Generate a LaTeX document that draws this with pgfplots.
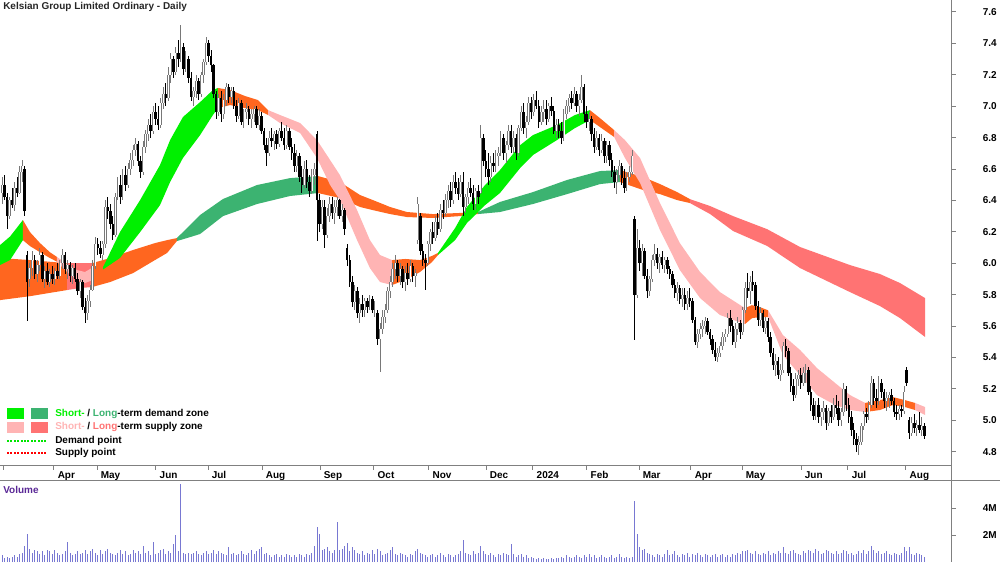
\documentclass[border=0pt]{standalone}
\usepackage{pgfplots}
\pgfplotsset{compat=1.18}
\usepackage{pgfplotstable}
\usepackage{fontspec}
\setmainfont{Liberation Sans}
\definecolor{sgreen}{RGB}{0,240,0}
\definecolor{lgreen}{RGB}{60,179,113}
\definecolor{spink}{RGB}{255,180,180}
\definecolor{lred}{RGB}{255,115,115}
\definecolor{orng}{RGB}{255,102,31}
\definecolor{volc}{RGB}{120,120,210}
\definecolor{volt}{RGB}{90,40,150}
\definecolor{framec}{RGB}{128,128,128}
\definecolor{upc}{RGB}{120,120,120}
\definecolor{dotgreen}{RGB}{0,230,0}
\definecolor{dotred}{RGB}{255,0,0}

\pgfplotstableread{
i o h l c v
0 6.45 6.55 6.38 6.50 0.5
1 6.50 6.56 6.40 6.42 0.3
2 6.42 6.45 6.22 6.30 0.4
3 6.30 6.42 6.28 6.40 0.3
4 6.40 6.48 6.35 6.37 0.4
5 6.37 6.52 6.33 6.48 0.5
6 6.48 6.55 6.42 6.45 0.4
7 6.45 6.62 6.44 6.58 0.6
8 6.58 6.66 6.52 6.62 0.7
9 6.60 6.62 6.30 6.33 1.2
10 6.05 6.08 5.63 5.88 2.1
11 5.90 6.00 5.85 5.97 1.0
12 5.97 6.08 5.92 6.02 0.7
13 6.02 6.05 5.90 5.93 0.9
14 5.93 6.02 5.88 5.99 0.8
15 5.99 6.10 5.95 6.05 0.6
16 6.05 6.07 5.88 5.90 0.8
17 5.90 5.98 5.84 5.95 0.5
18 5.95 6.00 5.86 5.88 0.9
19 5.88 5.96 5.85 5.93 0.8
20 5.93 5.98 5.87 5.90 0.6
21 5.90 5.97 5.86 5.95 0.9
22 5.95 6.00 5.90 5.92 0.7
23 5.92 6.02 5.90 6.00 0.5
24 6.00 6.09 5.96 6.05 0.6
25 6.05 6.07 5.93 5.96 0.8
26 5.96 6.02 5.90 5.99 1.5
27 5.99 6.01 5.88 5.92 0.7
28 5.92 5.99 5.87 5.97 0.5
29 5.97 6.00 5.88 5.90 0.6
30 5.90 5.94 5.80 5.82 0.8
31 5.82 5.90 5.78 5.88 0.6
32 5.88 5.89 5.70 5.72 0.7
33 5.72 5.78 5.62 5.68 0.9
34 5.68 5.80 5.64 5.76 0.6
35 5.76 5.86 5.72 5.83 0.8
36 5.83 6.02 5.82 5.98 1.0
37 5.98 6.17 5.96 6.12 0.7
38 6.12 6.16 6.05 6.10 0.5
39 6.10 6.14 6.03 6.06 0.9
40 6.05 6.14 6.02 6.12 0.6
41 6.12 6.40 6.10 6.36 0.8
42 6.36 6.42 6.28 6.33 1.0
43 6.33 6.38 6.22 6.25 0.7
44 6.25 6.30 6.15 6.18 0.6
45 6.18 6.45 6.17 6.42 0.5
46 6.42 6.55 6.40 6.50 0.7
47 6.50 6.56 6.38 6.42 0.9
48 6.42 6.60 6.40 6.56 0.6
49 6.56 6.62 6.46 6.50 0.8
50 6.50 6.64 6.48 6.60 0.5
51 6.60 6.70 6.56 6.66 0.6
52 6.66 6.75 6.62 6.72 0.9
53 6.72 6.80 6.68 6.76 0.7
54 6.76 6.78 6.62 6.65 0.8
55 6.65 6.68 6.54 6.58 0.6
56 6.58 6.78 6.56 6.74 1.2
57 6.74 6.85 6.70 6.82 0.7
58 6.82 6.92 6.78 6.88 0.8
59 6.88 6.95 6.80 6.84 0.5
60 6.84 7.00 6.82 6.96 1.5
61 6.96 7.02 6.88 6.92 0.6
62 6.92 7.00 6.85 6.88 0.7
63 6.88 7.05 6.86 7.02 0.9
64 7.02 7.12 6.98 7.08 1.0
65 7.08 7.15 7.00 7.05 0.6
66 7.05 7.25 7.03 7.20 0.8
67 7.20 7.34 7.15 7.30 0.7
68 7.30 7.32 7.18 7.22 1.3
69 7.22 7.38 7.20 7.34 2.0
70 7.34 7.42 7.25 7.30 0.8
71 7.30 7.52 7.28 7.38 5.8
72 7.38 7.40 7.20 7.24 0.7
73 7.24 7.35 7.22 7.30 0.6
74 7.30 7.32 7.15 7.18 0.7
75 7.18 7.22 7.03 7.06 0.6
76 7.06 7.12 7.00 7.10 0.7
77 7.10 7.20 7.05 7.16 0.8
78 7.16 7.18 7.04 7.08 0.6
79 7.08 7.22 7.06 7.20 0.5
80 7.20 7.30 7.15 7.28 0.7
81 7.28 7.44 7.26 7.40 0.8
82 7.40 7.42 7.28 7.32 0.6
83 7.32 7.36 7.22 7.26 0.7
84 7.26 7.27 7.05 7.08 0.9
85 7.08 7.10 6.92 6.96 0.6
86 6.96 7.08 6.94 7.05 0.8
87 7.05 7.10 6.90 6.95 0.7
88 6.95 7.08 6.92 7.04 0.6
89 7.04 7.15 7.00 7.12 0.5
90 7.12 7.14 7.02 7.06 1.1
91 7.06 7.12 7.02 7.10 0.6
92 7.10 7.12 6.98 7.00 0.7
93 7.00 7.04 6.90 6.94 0.5
94 6.94 7.05 6.92 7.02 0.6
95 7.02 7.04 6.88 6.90 0.8
96 6.90 6.98 6.86 6.96 0.6
97 6.96 7.02 6.92 6.98 0.5
98 6.98 7.00 6.88 6.92 0.7
99 6.92 6.98 6.86 6.95 0.9
100 6.95 7.00 6.90 6.98 0.6
101 6.98 7.00 6.86 6.88 0.8
102 6.88 6.98 6.85 6.94 1.0
103 6.94 6.96 6.82 6.84 1.1
104 6.84 6.86 6.72 6.75 0.6
105 6.75 6.80 6.62 6.70 0.7
106 6.70 6.84 6.68 6.80 0.5
107 6.80 6.86 6.74 6.78 0.4
108 6.78 6.84 6.72 6.82 0.5
109 6.82 6.85 6.73 6.76 0.6
110 6.76 6.86 6.74 6.84 0.4
111 6.84 6.90 6.78 6.80 0.5
112 6.80 6.86 6.72 6.75 0.4
113 6.75 6.88 6.73 6.84 0.6
114 6.84 6.86 6.72 6.74 0.5
115 6.74 6.80 6.66 6.70 0.4
116 6.70 6.76 6.58 6.62 0.5
117 6.62 6.72 6.58 6.68 0.4
118 6.68 6.70 6.52 6.55 0.6
119 6.55 6.62 6.45 6.50 0.5
120 6.50 6.65 6.48 6.60 0.4
121 6.60 6.66 6.48 6.52 0.6
122 6.52 6.56 6.42 6.46 0.5
123 6.46 6.60 6.44 6.56 0.7
124 6.56 6.64 6.50 6.60 1.2
125 6.82 6.84 6.14 6.40 2.6
126 6.40 6.44 6.20 6.25 2.1
127 6.25 6.40 6.22 6.36 0.9
128 6.36 6.40 6.10 6.18 1.0
129 6.18 6.35 6.16 6.30 1.1
130 6.30 6.42 6.26 6.38 0.8
131 6.38 6.42 6.28 6.32 0.7
132 6.32 6.40 6.25 6.36 0.9
133 6.36 6.42 6.30 6.40 3.0
134 6.40 6.41 6.28 6.30 0.9
135 6.30 6.38 6.26 6.34 1.0
136 6.34 6.35 6.18 6.22 1.2
137 6.10 6.12 5.98 6.02 1.4
138 6.02 6.05 5.85 5.88 0.8
139 5.88 5.92 5.72 5.75 1.1
140 5.75 5.86 5.70 5.82 0.9
141 5.82 5.85 5.65 5.68 0.7
142 5.68 5.78 5.62 5.74 0.6
143 5.74 5.80 5.66 5.70 0.8
144 5.70 5.78 5.66 5.76 0.5
145 5.76 5.78 5.68 5.72 0.7
146 5.72 5.80 5.70 5.77 0.6
147 5.77 5.79 5.68 5.70 0.9
148 5.70 5.76 5.66 5.73 0.6
149 5.68 5.70 5.48 5.52 1.0
150 5.52 5.62 5.31 5.58 0.8
151 5.58 5.70 5.55 5.66 0.5
152 5.66 5.74 5.62 5.70 0.6
153 5.70 5.85 5.68 5.82 0.7
154 5.82 5.92 5.78 5.88 0.9
155 5.88 6.00 5.85 5.96 1.1
156 5.96 6.05 5.90 6.00 0.6
157 6.00 6.02 5.88 5.92 0.5
158 5.92 6.00 5.86 5.96 0.7
159 5.96 5.98 5.84 5.88 0.6
160 5.88 5.98 5.82 5.94 0.5
161 5.94 6.00 5.86 5.90 0.4
162 5.90 6.02 5.88 5.98 0.6
163 5.98 6.00 5.88 5.92 0.5
164 5.92 5.96 5.85 5.94 0.8
165 6.15 6.42 6.12 6.38 1.0
166 6.30 6.32 6.05 6.08 0.7
167 6.08 6.12 5.98 6.02 0.6
168 6.02 6.06 5.83 6.00 0.5
169 6.00 6.14 5.98 6.12 0.4
170 6.12 6.22 6.08 6.20 0.5
171 6.20 6.26 6.12 6.16 0.6
172 6.16 6.30 6.14 6.26 0.4
173 6.26 6.32 6.18 6.22 0.5
174 6.22 6.38 6.20 6.34 0.7
175 6.34 6.40 6.28 6.32 0.5
176 6.32 6.44 6.30 6.40 0.4
177 6.40 6.50 6.35 6.46 0.6
178 6.46 6.52 6.36 6.40 0.5
179 6.40 6.56 6.38 6.52 0.4
180 6.52 6.58 6.44 6.48 0.5
181 6.48 6.54 6.40 6.44 0.6
182 6.44 6.56 6.42 6.52 0.8
183 6.52 6.58 6.30 6.36 1.6
184 6.36 6.44 6.32 6.42 0.7
185 6.42 6.52 6.38 6.48 0.6
186 6.48 6.54 6.42 6.45 0.5
187 6.45 6.50 6.34 6.38 0.8
188 6.38 6.48 6.34 6.46 0.6
189 6.46 6.50 6.38 6.42 0.7
190 6.45 6.88 6.44 6.80 1.2
191 6.80 6.82 6.62 6.65 0.8
192 6.65 6.72 6.55 6.60 0.6
193 6.60 6.70 6.50 6.55 0.5
194 6.55 6.68 6.52 6.64 0.7
195 6.64 6.70 6.58 6.62 0.5
196 6.62 6.72 6.58 6.68 0.4
197 6.68 6.74 6.62 6.70 0.6
198 6.70 6.84 6.68 6.80 0.5
199 6.80 6.82 6.66 6.70 0.7
200 6.70 6.78 6.64 6.75 0.6
201 6.75 6.88 6.72 6.84 0.5
202 6.84 6.88 6.70 6.74 1.3
203 6.74 6.84 6.70 6.80 0.6
204 6.80 6.82 6.66 6.70 0.4
205 6.70 6.88 6.68 6.86 0.5
206 6.86 7.00 6.84 6.96 0.6
207 6.96 7.02 6.82 6.86 0.4
208 6.86 6.94 6.80 6.90 0.5
209 6.90 7.06 6.88 7.02 0.3
210 7.02 7.06 6.92 6.96 0.4
211 6.96 7.08 6.94 7.04 0.3
212 7.04 7.10 6.98 7.00 0.2
213 7.00 7.04 6.86 6.90 0.3
214 6.90 7.00 6.88 6.96 0.2
215 6.96 7.04 6.90 6.98 0.3
216 6.98 7.04 6.88 6.92 0.2
217 6.92 7.02 6.90 7.00 0.2
218 7.00 7.06 6.94 6.97 0.3
219 6.97 7.00 6.82 6.84 0.2
220 6.84 6.92 6.80 6.88 0.3
221 6.88 6.92 6.80 6.84 0.3
222 6.84 6.90 6.76 6.80 0.4
223 6.80 6.98 6.78 6.95 0.3
224 6.95 7.04 6.92 7.00 0.5
225 7.00 7.08 6.96 7.05 0.4
226 7.05 7.10 6.98 7.02 0.3
227 7.02 7.12 7.00 7.08 0.4
228 7.08 7.10 6.96 7.00 0.5
229 7.00 7.08 6.94 7.04 0.4
230 7.04 7.20 7.02 7.12 0.3
231 7.12 7.14 6.90 6.95 0.5
232 6.95 7.00 6.86 6.90 0.4
233 6.90 6.96 6.84 6.92 0.6
234 6.92 6.94 6.78 6.82 0.4
235 6.82 6.86 6.70 6.74 0.5
236 6.74 6.84 6.72 6.80 0.3
237 6.80 6.82 6.68 6.72 0.4
238 6.72 6.82 6.70 6.78 0.5
239 6.78 6.80 6.64 6.68 0.4
240 6.68 6.78 6.64 6.75 0.3
241 6.75 6.78 6.62 6.66 0.4
242 6.66 6.70 6.55 6.58 0.5
243 6.58 6.62 6.48 6.52 0.3
244 6.52 6.60 6.44 6.56 0.4
245 6.56 6.66 6.54 6.62 0.6
246 6.62 6.64 6.50 6.54 0.4
247 6.54 6.60 6.45 6.48 0.3
248 6.48 6.58 6.46 6.55 0.4
249 6.55 6.62 6.52 6.58 0.3
250 6.58 6.72 6.56 6.68 0.4
251 6.28 6.30 5.51 5.80 4.5
252 5.80 6.22 5.78 6.10 2.1
253 6.10 6.15 5.95 6.00 1.1
254 6.00 6.12 5.92 6.08 0.9
255 6.08 6.10 5.90 5.92 1.0
256 5.92 5.96 5.78 5.82 0.7
257 5.82 5.92 5.79 5.90 0.6
258 5.90 6.05 5.88 6.02 0.5
259 6.02 6.12 5.98 6.06 0.4
260 6.06 6.10 5.96 6.00 0.6
261 6.00 6.06 5.94 6.04 0.5
262 6.04 6.08 5.96 5.99 0.4
263 5.99 6.04 5.94 6.02 0.6
264 6.02 6.04 5.93 5.96 0.9
265 5.96 5.98 5.90 5.93 0.5
266 5.93 5.95 5.84 5.86 0.6
267 5.86 5.90 5.78 5.81 0.8
268 5.81 5.88 5.76 5.84 0.5
269 5.84 5.86 5.74 5.77 0.4
270 5.77 5.84 5.72 5.80 0.6
271 5.80 5.84 5.70 5.74 0.5
272 5.74 5.82 5.70 5.78 0.7
273 5.78 5.84 5.72 5.76 0.4
274 5.76 5.78 5.62 5.64 0.6
275 5.64 5.66 5.48 5.50 0.5
276 5.50 5.58 5.46 5.55 0.7
277 5.55 5.62 5.52 5.58 0.5
278 5.58 5.64 5.53 5.60 0.4
279 5.60 5.66 5.55 5.63 0.6
280 5.63 5.65 5.54 5.56 0.5
281 5.56 5.58 5.48 5.52 0.4
282 5.52 5.54 5.42 5.45 0.5
283 5.45 5.50 5.38 5.40 0.6
284 5.40 5.46 5.37 5.43 0.4
285 5.43 5.50 5.40 5.47 0.5
286 5.47 5.56 5.45 5.53 0.6
287 5.53 5.58 5.50 5.55 0.4
288 5.55 5.68 5.53 5.65 0.5
289 5.65 5.70 5.56 5.60 0.4
290 5.60 5.64 5.48 5.50 0.6
291 5.50 5.62 5.46 5.58 0.5
292 5.58 5.66 5.54 5.62 0.7
293 5.62 5.64 5.52 5.56 0.6
294 5.56 5.72 5.54 5.70 0.8
295 5.70 5.88 5.68 5.84 0.8
296 5.84 5.94 5.78 5.82 0.9
297 5.82 5.92 5.74 5.88 0.7
298 5.88 5.95 5.82 5.86 0.6
299 5.86 5.88 5.70 5.73 0.8
300 5.73 5.76 5.60 5.64 0.6
301 5.64 5.72 5.60 5.68 0.5
302 5.68 5.70 5.56 5.59 0.7
303 5.59 5.66 5.55 5.63 0.6
304 5.63 5.65 5.50 5.53 0.8
305 5.53 5.56 5.40 5.43 0.5
306 5.43 5.46 5.32 5.35 0.7
307 5.35 5.42 5.28 5.38 0.6
308 5.38 5.40 5.26 5.29 0.8
309 5.29 5.36 5.25 5.32 0.7
310 5.32 5.50 5.30 5.47 1.1
311 5.47 5.52 5.40 5.44 0.7
312 5.44 5.46 5.28 5.30 0.6
313 5.30 5.34 5.18 5.22 0.8
314 5.22 5.26 5.12 5.16 0.9
315 5.16 5.30 5.14 5.26 0.7
316 5.26 5.32 5.22 5.29 0.6
317 5.29 5.33 5.20 5.24 0.5
318 5.24 5.34 5.22 5.30 0.8
319 5.30 5.36 5.24 5.32 0.7
320 5.32 5.34 5.16 5.18 0.9
321 5.18 5.22 5.06 5.10 0.8
322 5.10 5.14 5.00 5.03 0.7
323 5.03 5.12 5.00 5.10 1.0
324 5.10 5.14 4.98 5.02 0.8
325 5.02 5.08 4.96 5.05 0.6
326 5.05 5.12 5.00 5.08 0.7
327 5.08 5.10 4.94 4.98 0.9
328 4.98 5.08 4.96 5.06 0.8
329 5.06 5.10 4.98 5.02 0.7
330 5.02 5.14 5.00 5.10 0.6
331 5.10 5.16 5.04 5.08 0.8
332 5.08 5.12 4.96 5.00 0.6
333 5.00 5.08 4.96 5.05 0.7
334 5.05 5.24 5.03 5.20 0.9
335 5.20 5.22 5.06 5.10 0.8
336 5.10 5.14 4.98 5.02 0.6
337 5.02 5.06 4.90 4.94 0.7
338 4.94 4.98 4.84 4.88 0.5
339 4.88 4.92 4.80 4.84 0.6
340 4.84 4.90 4.78 4.86 0.8
341 4.86 4.98 4.84 4.96 0.7
342 4.96 5.06 4.94 5.04 0.9
343 5.04 5.08 4.98 5.02 0.6
344 5.02 5.12 5.00 5.10 0.8
345 5.10 5.28 5.08 5.24 1.2
346 5.24 5.26 5.10 5.14 0.9
347 5.14 5.20 5.08 5.12 0.7
348 5.12 5.28 5.10 5.24 0.8
349 5.24 5.26 5.14 5.18 0.6
350 5.18 5.20 5.08 5.12 0.7
351 5.12 5.18 5.06 5.14 0.8
352 5.14 5.18 5.08 5.16 0.6
353 5.16 5.20 5.10 5.12 0.5
354 5.12 5.14 5.02 5.05 0.7
355 5.05 5.10 5.00 5.04 0.6
356 5.04 5.10 5.00 5.07 0.5
357 5.07 5.10 5.02 5.06 0.7
358 5.06 5.22 5.04 5.18 1.1
359 5.32 5.34 5.22 5.24 0.8
360 5.00 5.02 4.88 4.92 1.1
361 4.92 5.02 4.90 4.98 0.6
362 4.98 5.04 4.92 4.95 0.5
363 4.95 5.00 4.90 4.97 0.7
364 4.97 5.05 4.92 4.94 0.6
365 4.94 5.02 4.90 4.96 0.5
366 4.96 4.98 4.88 4.90 0.4
}\candles

\pgfplotsset{
  candle/.style n args={3}{draw=none, no markers, forget plot,
    error bars/y dir=#2, error bars/y explicit, error bars/error mark=none,
    error bars/error bar style={draw=#1, solid, line width=#3}},
}

\begin{document}
\begin{tikzpicture}[font=\fontsize{7.1pt}{8.5pt}\selectfont\bfseries]
\useasboundingbox (0,0) rectangle (250mm,-140.5mm);
\begin{axis}[
  at={(0,0)}, anchor=north west, scale only axis,
  width=238mm, height=116.5mm,
  xmin=-0.794, xmax=376.98, ymin=4.7083, ymax=7.6764,
  axis line style={draw=none},
  tick align=outside, major tick length=0.9mm,
  tick style={draw=framec, line width=0.25mm},
  xtick pos=left, ytick pos=right, yticklabel pos=right,
  xtick={0.4,20.63,37.7,61.1,81.75,103.2,126.2,147.6,169.4,192.1,210.7,232.1,252.8,273.4,293.7,317.1,335.7,358.7},
  xticklabels={,Apr,May,Jun,Jul,Aug,Sep,Oct,Nov,Dec,2024,Feb,Mar,Apr,May,Jun,Jul,Aug},
  xticklabel style={anchor=north west, yshift=0.8mm, xshift=-0.3mm},
  ytick={4.8,5.0,5.2,5.4,5.6,5.8,6.0,6.2,6.4,6.6,6.8,7.0,7.2,7.4,7.6},
  yticklabels={4.8,5.0,5.2,5.4,5.6,5.8,6.0,6.2,6.4,6.6,6.8,7.0,7.2,7.4,7.6},
  yticklabel style={anchor=east, xshift=11.5mm},
]
% ---- long-term band
\addplot[fill=orng, draw=none] coordinates {(-0.8,6.033) (11.1,6.02) (25.8,6.0) (25.8,5.829) (11.1,5.79) (-0.8,5.765)};
\addplot[fill=lred, draw=none] coordinates {(25.8,6.0) (31,6.0) (35.7,6.0) (35.7,5.848) (31,5.842) (25.8,5.829)};
\addplot[fill=orng, draw=none] coordinates {(35.7,6.0) (42.9,6.033) (52,6.084) (60.7,6.128) (65.5,6.147) (69.4,6.16) (69.4,6.141) (65.5,6.065) (60.7,6.02) (52,5.937) (42.9,5.88) (35.7,5.848)};
\addplot[fill=lgreen, draw=none] coordinates {(69.4,6.16) (74.6,6.243) (78.6,6.307) (87.7,6.409) (101.2,6.498) (114.3,6.542) (125.4,6.555) (125.4,6.447) (114.3,6.428) (101.2,6.377) (87.7,6.30) (78.6,6.186) (74.6,6.166) (69.4,6.141)};
\addplot[fill=orng, draw=none] coordinates {(125.4,6.555) (134.1,6.517) (142.1,6.434) (147.2,6.402) (154,6.358) (160.7,6.326) (171,6.313) (181.7,6.32) (188.9,6.326) (188.9,6.313) (181.7,6.30) (171,6.288) (160.7,6.294) (154,6.313) (147.2,6.338) (142.1,6.358) (134.1,6.415) (125.4,6.447)};
\addplot[fill=lgreen, draw=none] coordinates {(188.9,6.326) (197.6,6.39) (210.7,6.453) (224.2,6.53) (237.3,6.587) (245.2,6.593) (245.2,6.517) (237.3,6.504) (224.2,6.44) (210.7,6.377) (197.6,6.326) (188.9,6.313)};
\addplot[fill=orng, draw=none] coordinates {(245.2,6.593) (254.4,6.549) (261.1,6.504) (267.9,6.453) (273,6.408) (273,6.383) (267.9,6.402) (261.1,6.44) (254.4,6.466) (245.2,6.517)};
\addplot[fill=lred, draw=none] coordinates {(273,6.408) (281,6.364) (290.1,6.30) (303.6,6.217) (316.7,6.103) (336.5,5.988) (348.4,5.931) (356.3,5.874) (366.3,5.778) (366.3,5.53) (356.3,5.651) (348.4,5.727) (336.5,5.816) (316.7,5.969) (303.6,6.11) (290.1,6.205) (281,6.313) (273,6.383)};
% ---- short-term band
\addplot[fill=sgreen, draw=none] coordinates {(-0.8,6.115) (3.2,6.17) (8.3,6.275) (8.3,6.147) (3.2,6.02) (-0.8,5.988)};
\addplot[fill=orng, draw=none] coordinates {(8.3,6.275) (11.1,6.198) (15.1,6.128) (19,6.07) (21.8,6.04) (21.8,6.01) (19,6.033) (15.1,6.07) (11.1,6.109) (8.3,6.147)};
\addplot[fill=spink, draw=none] coordinates {(21.8,6.04) (25.8,5.995) (29.8,5.956) (32.9,5.944) (35.7,5.97) (35.7,5.89) (32.9,5.874) (29.8,5.893) (25.8,5.944) (21.8,6.01)};
\addplot[fill=sgreen, draw=none] coordinates {(40.1,5.975) (46.8,6.198) (54.8,6.402) (62.7,6.625) (66.7,6.784) (71.8,6.931) (78.6,7.026) (83.7,7.103) (85.7,7.116) (85.7,6.988) (83.7,6.944) (78.6,6.816) (71.8,6.670) (66.7,6.517) (62.7,6.370) (54.8,6.198) (46.8,6.033) (40.1,5.96)};
\addplot[fill=orng, draw=none] coordinates {(85.7,7.116) (90.5,7.103) (96.4,7.065) (101.6,7.039) (105.6,6.975) (105.6,6.944) (101.6,6.975) (96.4,6.988) (90.5,7.007) (85.7,6.988)};
\addplot[fill=spink, draw=none] coordinates {(105.6,6.975) (110.3,6.944) (118.3,6.893) (125,6.784) (130.2,6.657) (134.1,6.561) (140.9,6.338) (146,6.147) (150,6.052) (154.8,6.02) (154.8,5.861) (150,5.88) (146,5.969) (140.9,6.147) (134.1,6.402) (130.2,6.498) (125,6.67) (118.3,6.829) (110.3,6.893) (105.6,6.944)};
\addplot[fill=orng, draw=none] coordinates {(154.8,6.02) (160,6.027) (165.9,6.02) (170.6,6.046) (173,6.065) (173,6.052) (170.6,6.007) (165.9,5.944) (160,5.893) (154.8,5.861)};
\addplot[fill=sgreen, draw=none] coordinates {(173,6.065) (179.8,6.224) (184.5,6.358) (191.7,6.498) (197.6,6.593) (205.6,6.752) (210.7,6.816) (220.2,6.88) (227.4,6.944) (233.3,6.975) (233.3,6.912) (227.4,6.861) (220.2,6.784) (210.7,6.689) (205.6,6.606) (197.6,6.447) (191.7,6.37) (184.5,6.256) (179.8,6.147) (173,6.052)};
\addplot[fill=orng, draw=none] coordinates {(233.3,6.975) (237.3,6.924) (242.9,6.848) (242.9,6.804) (237.3,6.867) (233.3,6.912)};
\addplot[fill=spink, draw=none] coordinates {(242.9,6.848) (247.2,6.784) (253.2,6.67) (261.1,6.383) (269,6.128) (277,5.944) (284.9,5.816) (294.8,5.714) (294.8,5.612) (284.9,5.67) (277,5.778) (269,5.956) (261.1,6.211) (253.2,6.511) (247.2,6.67) (242.9,6.804)};
\addplot[fill=orng, draw=none] coordinates {(294.8,5.714) (297.6,5.733) (300.8,5.72) (304,5.70) (304,5.657) (300.8,5.657) (297.6,5.65) (294.8,5.612)};
\addplot[fill=spink, draw=none] coordinates {(304,5.70) (309.9,5.542) (316.7,5.447) (323.4,5.332) (330.6,5.237) (336.5,5.16) (342.5,5.11) (342.5,5.052) (336.5,5.065) (330.6,5.097) (323.4,5.16) (316.7,5.287) (309.9,5.415) (304,5.657)};
\addplot[fill=orng, draw=none] coordinates {(342.5,5.11) (348.4,5.128) (353.6,5.147) (358.3,5.128) (362.3,5.11) (362.3,5.065) (358.3,5.084) (353.6,5.097) (348.4,5.065) (342.5,5.052)};
\addplot[fill=spink, draw=none] coordinates {(362.3,5.11) (366.3,5.084) (366.3,5.033) (362.3,5.065)};
% ---- candles: wicks
\addplot[restrict expr to domain={\thisrow{c}-\thisrow{o}}{0:10}, candle={upc}{both}{0.25mm}]
  table[x=i, y=c, y error plus expr=\thisrow{h}-\thisrow{c}, y error minus expr=\thisrow{c}-\thisrow{l}] {\candles};
\addplot[restrict expr to domain={\thisrow{c}-\thisrow{o}}{-10:-0.0001}, candle={black}{both}{0.25mm}]
  table[x=i, y=c, y error plus expr=\thisrow{h}-\thisrow{c}, y error minus expr=\thisrow{c}-\thisrow{l}] {\candles};
% ---- candles: bodies
\addplot[restrict expr to domain={\thisrow{c}-\thisrow{o}}{0:10}, candle={upc}{plus}{0.62mm}]
  table[x=i, y=o, y error plus expr=\thisrow{c}-\thisrow{o}] {\candles};
\addplot[restrict expr to domain={\thisrow{c}-\thisrow{o}}{0:10}, candle={white}{plus}{0.2mm}]
  table[x=i, y=o, y error plus expr=\thisrow{c}-\thisrow{o}] {\candles};
\addplot[restrict expr to domain={\thisrow{c}-\thisrow{o}}{-10:-0.0001}, candle={black}{plus}{0.62mm}]
  table[x=i, y=c, y error plus expr=\thisrow{o}-\thisrow{c}] {\candles};
\end{axis}

\begin{axis}[
  at={(0,-120.25mm)}, anchor=north west, scale only axis,
  width=238mm, height=20.25mm,
  xmin=-0.794, xmax=376.98, ymin=0, ymax=6,
  axis line style={draw=none},
  tick align=outside, major tick length=0.9mm,
  tick style={draw=framec, line width=0.25mm},
  xtick=\empty, ytick pos=right, yticklabel pos=right,
  ytick={2,4}, yticklabels={2M,4M},
  yticklabel style={anchor=east, xshift=11.5mm},
]
\addplot[ycomb, no markers, draw=volc, line width=0.25mm] table[x=i, y=v] {\candles};
\end{axis}

\begin{scope}[x=0.25mm, y=-0.25mm]
\draw[framec, line width=0.25mm] (952,0) -- (952,562);
\draw[framec, line width=0.25mm] (0,466) -- (952,466);
\draw[framec, line width=0.25mm] (0,480.5) -- (1000,480.5);
\node[anchor=west, inner sep=0, text=black!85] at (3,7) {Kelsian Group Limited Ordinary - Daily};
\node[anchor=west, inner sep=0, text=volt] at (3,490) {Volume};
\fill[sgreen] (7,408) rectangle (24,419);
\fill[lgreen] (31,408) rectangle (48,419);
\fill[spink] (7,422) rectangle (24,433);
\fill[lred] (31,422) rectangle (48,433);
\foreach \xx in {7,10.4,13.8,17.2,20.6,24,27.4,30.8,34.2,37.6,41,44.4} {
  \fill[fill=dotgreen] (\xx,439.8) rectangle ++(2,2.2);
  \fill[fill=dotred] (\xx,451.8) rectangle ++(2,2.2);
}
\node[anchor=west, inner sep=0] at (55,414) {\textcolor{sgreen}{Short-} / \textcolor{lgreen}{Long}-term demand zone};
\node[anchor=west, inner sep=0] at (55,427) {\textcolor{spink}{Short-} / \textcolor{lred}{Long}-term supply zone};
\node[anchor=west, inner sep=0] at (55,441) {Demand point};
\node[anchor=west, inner sep=0] at (55,453) {Supply point};
\end{scope}
\end{tikzpicture}
\end{document}
